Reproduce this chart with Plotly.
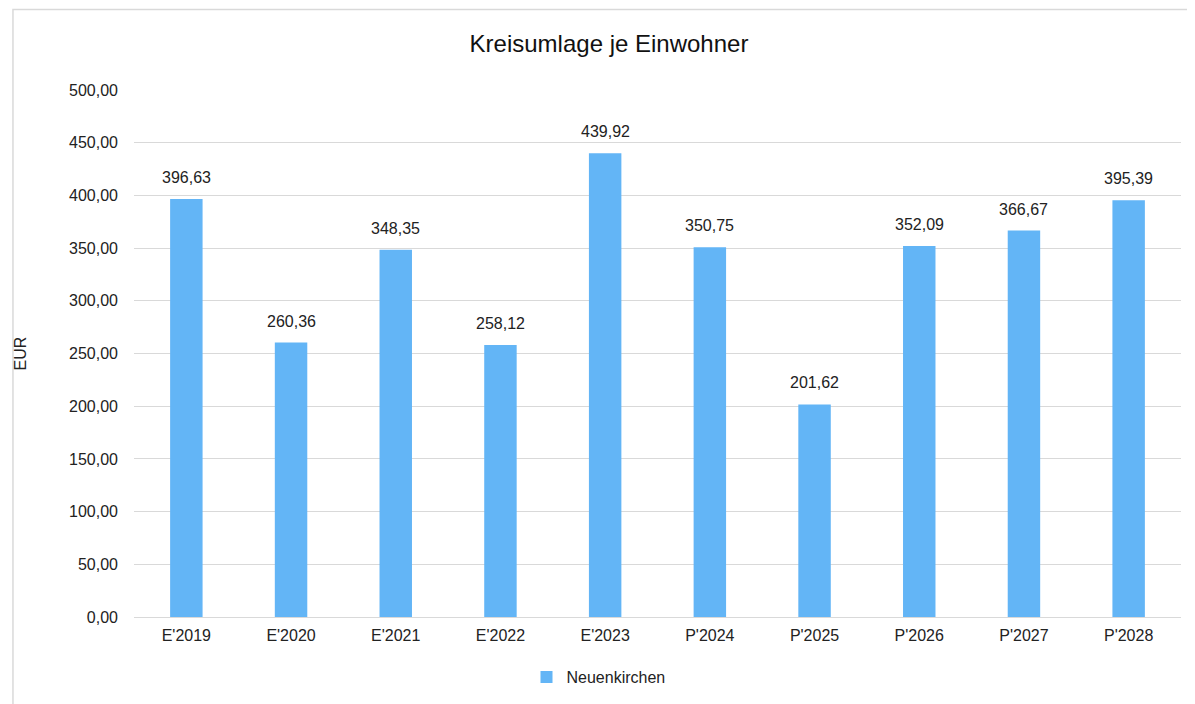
import plotly.graph_objects as go

categories = ["E'2019", "E'2020", "E'2021", "E'2022", "E'2023",
              "P'2024", "P'2025", "P'2026", "P'2027", "P'2028"]
values = [396.63, 260.36, 348.35, 258.12, 439.92,
          350.75, 201.62, 352.09, 366.67, 395.39]
y_ticks = [0, 50, 100, 150, 200, 250, 300, 350, 400, 450, 500]

# page puts the figure 8px in from the corner, so target positions are shifted
OFF = 8
W, H = 1195, 704
L, R, T, B = 130 - OFF, 22, 90 - OFF, 87 + OFF
pw, ph = W - L - R, H - T - B

def px(x):
    return (x - OFF - L) / pw

def py(y):
    return (H - B - (y - OFF)) / ph

fig = go.Figure()
fig.add_trace(go.Bar(
    x=categories, y=values, name="Neuenkirchen",
    marker=dict(color="#63B5F6", line=dict(width=0)),
))

# value labels above bars
for c, v in zip(categories, values):
    fig.add_annotation(x=c, y=v, text=f"{v:.2f}".replace(".", ","),
                       showarrow=False, yanchor="bottom", yshift=11,
                       font=dict(size=16, color="#222222"))

fig.update_layout(
    width=W, height=H,
    margin=dict(l=L, r=R, t=T, b=B),
    separators=",.",
    paper_bgcolor="white", plot_bgcolor="white",
    font=dict(family="Liberation Sans, Arial, sans-serif", size=16, color="#222222"),
    title=dict(text="Kreisumlage je Einwohner", x=(609 - OFF) / W, xref="container",
               xanchor="center", y=1 - (44 - OFF) / H, yanchor="middle",
               font=dict(size=24, color="#111111")),
    bargap=0.69,
    showlegend=True,
    legend=dict(orientation="h", x=px(524), xanchor="left", y=py(677), yanchor="middle",
                font=dict(size=16), itemwidth=30),
    shapes=[dict(type="rect", xref="paper", yref="paper",
                 x0=px(8.5), x1=px(1215), y0=py(720), y1=py(9.5),
                 line=dict(color="#D9D9D9", width=1.5), layer="below")],
)
fig.update_yaxes(range=[0, 500], tickvals=y_ticks, tickformat=",.2f",
                 showgrid=True, gridcolor="#D9D9D9", gridwidth=1,
                 zeroline=False, ticks="", ticklabelstandoff=15,
                 title=dict(text="EUR", standoff=38, font=dict(size=16)))
fig.update_xaxes(showline=True, linecolor="#D9D9D9", linewidth=1, ticks="",
                 ticklabelstandoff=4)

fig.write_html("out.html")
